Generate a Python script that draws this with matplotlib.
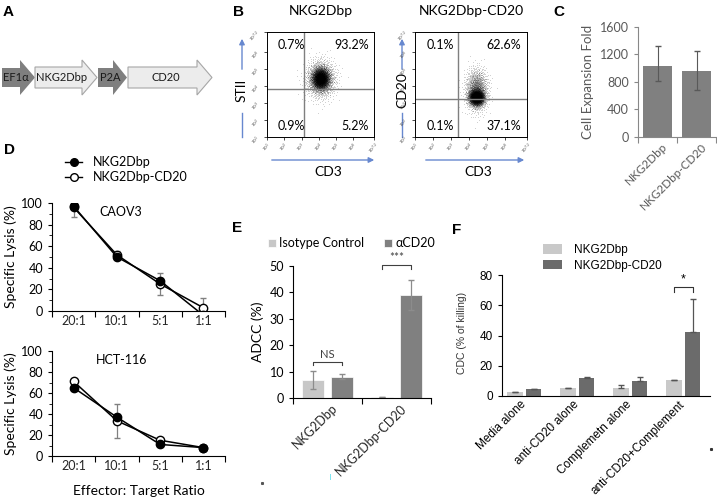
import numpy as np
import matplotlib
matplotlib.use("Agg")
import matplotlib.pyplot as plt
from matplotlib.patches import Polygon, Rectangle
from matplotlib.transforms import ScaledTranslation

plt.rcParams["font.family"] = ["Lato", "DejaVu Sans"]
W, H = 717, 504

# ── data ────────────────────────────────────────────────────────────
# A: construct
construct_parts = ["EF1\u03b1", "NKG2Dbp", "P2A", "CD20"]

# B: flow cytometry quadrants (percent), gate positions (log10), cloud (log10)
flow_titles = ["NKG2Dbp", "NKG2Dbp-CD20"]
flow_ylabels = ["STII", "CD20"]
quad_left = ["0.7%", "0.1%"]        # upper-left
quad_upper = ["93.2%", "62.6%"]     # upper-right
quad_lowleft = ["0.9%", "0.1%"]
quad_lowright = ["5.2%", "37.1%"]
gate_x = [3.15, 3.4]
gate_y = [3.83, 3.24]
cloud_cx = [4.1, 4.4]
cloud_cy = [4.45, 3.35]
core_sx = [0.24, 0.2]
core_sy = [0.3, 0.22]
halo_cy = [4.45, 3.8]
halo_sx = [0.42, 0.3]
halo_sy = [0.55, 0.6]

# C: expansion
c_groups = ["NKG2Dbp", "NKG2Dbp-CD20"]
c_mean = [1030, 960]
c_err_lo = [220, 280]
c_err_hi = [290, 290]

# D: specific lysis
ratios = ["20:1", "10:1", "5:1", "1:1"]
caov3_wt = [97, 50, 28, -4]
caov3_wt_sd = [1, 2, 3, 0]
caov3_cd20 = [96, 52, 25, 3]
caov3_cd20_sd = [8.5, 4, 10, 9]
hct_wt = [65, 37, 11, 8]
hct_wt_sd = [2, 3, 1, 1]
hct_cd20 = [71, 33.5, 15, 8]
hct_cd20_sd = [2, 16.5, 2, 1]

# E: ADCC
e_groups = ["NKG2Dbp", "NKG2Dbp-CD20"]
e_iso = [6.8, 0.2]
e_iso_sd = [3.3, 0]
e_acd20 = [8.1, 39]
e_acd20_sd = [0.9, 5.6]

# F: CDC
f_groups = ["Media alone", "anti-CD20 alone", "Complemetn alone", "anti-CD20+Complement"]
f_wt = [2.8, 5.5, 5.0, 10.8]
f_wt_sd = [0, 0, 2.5, 0]
f_cd20 = [4.8, 12, 10, 42]
f_cd20_sd = [0, 0.3, 2.8, 22.3]


def rect(x0, y0, x1, y1):
    return [x0 / W, 1 - y1 / H, (x1 - x0) / W, (y1 - y0) / H]


def cloud(n, cx, cy, sx, sy, k0):
    g = 1.32471795724474602596
    i = np.arange(k0, k0 + n)
    u1 = np.clip((0.5 + i / g) % 1, 1e-6, 1)
    u2 = (0.5 + i / g ** 2) % 1
    r = np.sqrt(-2 * np.log(u1))
    return cx + sx * r * np.cos(2 * np.pi * u2), cy + sy * r * np.sin(2 * np.pi * u2)


def cat_axis(ax, n, labels, fs=9, rot=0, dx=0.0, color="#262626"):
    ax.set_xlim(-0.5, n - 0.5)
    ax.set_xticks(np.arange(n + 1) - 0.5)
    ax.set_xticklabels([])
    ax.set_xticks(np.arange(n), minor=True)
    ax.set_xticklabels(labels, minor=True, fontsize=fs, rotation=rot,
                       ha="right" if rot else "center", color=color)
    ax.tick_params(axis="x", which="minor", length=0, pad=3)
    ax.tick_params(axis="x", which="major", length=4, direction="out")
    if dx:
        off = ScaledTranslation(dx / 100, 0, ax.figure.dpi_scale_trans)
        for lb in ax.get_xticklabels(minor=True):
            lb.set_transform(lb.get_transform() + off)
    for s in ("top", "right"):
        ax.spines[s].set_visible(False)


fig = plt.figure(figsize=(W / 100, H / 100), dpi=100)

# ── B: flow plots ───────────────────────────────────────────────────
for k, box in enumerate([(267, 32, 374, 137), (415, 32, 527, 137)]):
    ax = fig.add_axes(rect(*box))
    x1, y1 = cloud(3500, cloud_cx[k], cloud_cy[k], core_sx[k], core_sy[k], 1)
    x2, y2 = cloud(1500, cloud_cx[k], halo_cy[k], halo_sx[k], halo_sy[k], 7001)
    xs = np.concatenate([x1, x2]); ys = np.concatenate([y1, y2])
    ax.scatter(10 ** xs, 10 ** ys, s=0.18, c="k", alpha=0.35, linewidths=0)
    ax.set_xscale("log"); ax.set_yscale("log")
    ax.set_xlim(10, 10 ** 7.2); ax.set_ylim(10, 10 ** 7.2)
    ax.axvline(10 ** gate_x[k], color="#7f7f7f", lw=1)
    ax.axhline(10 ** gate_y[k], color="#7f7f7f", lw=1)
    tk = [10 ** e for e in (1, 2, 3, 4, 5, 6, 7.2)]
    tl = ["$10^{%s}$" % e for e in ("1", "2", "3", "4", "5", "6", "7.2")]
    ax.set_xticks(tk); ax.set_xticklabels(tl, fontsize=3.2, rotation=45, color="#444444")
    ax.set_yticks(tk); ax.set_yticklabels(tl, fontsize=3.2, rotation=45, color="#444444")
    ax.tick_params(which="both", length=2, width=0.5, pad=1)
    ax.tick_params(which="minor", length=1.2)
    for s in ax.spines.values():
        s.set_linewidth(0.7)
    kw = dict(transform=ax.transAxes, fontsize=9, va="center")
    ax.text(0.1, 0.88, quad_left[k], ha="left", **kw)
    ax.text(0.95, 0.88, quad_upper[k], ha="right", **kw)
    ax.text(0.1, 0.1, quad_lowleft[k], ha="left", **kw)
    ax.text(0.95, 0.1, quad_lowright[k], ha="right", **kw)
    ax.set_title(flow_titles[k], fontsize=10, pad=12)

# ── C: expansion fold ───────────────────────────────────────────────
gray_txt = "#595959"
axc = fig.add_axes(rect(638, 27, 716, 137))
axc.bar(np.arange(2), c_mean, width=0.72, color="#808080",
        yerr=[c_err_lo, c_err_hi], error_kw=dict(ecolor=gray_txt, lw=0.8, capsize=2.5))
axc.set_ylim(0, 1600)
axc.set_yticks([0, 400, 800, 1200, 1600])
axc.tick_params(axis="y", labelsize=9, labelcolor=gray_txt, color="#888888", length=3)
cat_axis(axc, 2, c_groups, fs=8.5, rot=45, dx=12, color=gray_txt)
axc.tick_params(axis="x", which="major", color="#888888")
for s in axc.spines.values():
    s.set_color("#888888")
axc.set_ylabel("Cell Expansion Fold", fontsize=9.5, color=gray_txt, labelpad=4)

# ── D: specific lysis ───────────────────────────────────────────────
d_sets = [(caov3_wt, caov3_wt_sd, caov3_cd20, caov3_cd20_sd, "CAOV3", (52, 203, 225, 311)),
          (hct_wt, hct_wt_sd, hct_cd20, hct_cd20_sd, "HCT-116", (52, 351, 225, 456))]
for wt, wsd, cd, csd, name, box in d_sets:
    ax = fig.add_axes(rect(*box))
    x = np.arange(4)
    ax.errorbar(x, cd, yerr=csd, color="#808080", lw=0, elinewidth=0.9, capsize=2.5)
    ax.errorbar(x, wt, yerr=wsd, color="#808080", lw=0, elinewidth=0.9, capsize=2.5)
    ax.plot(x, cd, "-o", color="k", mfc="white", mec="k", ms=6, lw=1.1, mew=1)
    ax.plot(x, wt, "-o", color="k", mfc="k", ms=6, lw=1.1)
    ax.set_ylim(0, 100)
    ax.set_yticks(np.arange(0, 101, 20))
    ax.set_yticks(np.arange(10, 100, 20), minor=True)
    ax.tick_params(axis="y", which="both", labelsize=9, direction="out", length=3)
    ax.tick_params(axis="y", which="minor", length=2)
    cat_axis(ax, 4, ratios, fs=9)
    ax.set_ylabel("Specific Lysis (%)", fontsize=10, labelpad=3)
    ax.text(0.4, 0.97, name, transform=ax.transAxes, fontsize=9, ha="center", va="top")
    if name == "HCT-116":
        ax.set_xlabel("Effector: Target Ratio", fontsize=10, labelpad=9)

# ── E: ADCC ─────────────────────────────────────────────────────────
axe = fig.add_axes(rect(293, 266, 431, 398))
xe = np.arange(2)
ekw = dict(ecolor="#8c8c8c", lw=0.9, capsize=2.5)
axe.bar(xe - 0.21, e_iso, width=0.32, color="#c7c7c7", yerr=e_iso_sd,
        error_kw=ekw, label="Isotype Control", edgecolor="white", lw=0.5)
axe.bar(xe + 0.21, e_acd20, width=0.32, color="#808080", yerr=e_acd20_sd,
        error_kw=ekw, label="\u03b1CD20", edgecolor="white", lw=0.5)
axe.set_ylim(0, 50)
axe.set_yticks(np.arange(0, 51, 10))
axe.tick_params(axis="y", labelsize=9, length=3)
cat_axis(axe, 2, e_groups, fs=9, rot=45, dx=12)
axe.set_ylabel("ADCC (%)", fontsize=10, labelpad=4)
for xc, yb, lab in [(0, 13.6, "NS"), (1, 50.2, "***")]:
    axe.plot([xc - 0.21, xc - 0.21, xc + 0.21, xc + 0.21],
             [yb - 1.2, yb, yb, yb - 1.2], color="#404040", lw=0.8, clip_on=False)
    axe.text(xc, yb + 0.8, lab, ha="center", va="bottom", fontsize=8 if lab == "NS" else 8.5,
             color="#404040")
axe.legend(ncol=2, frameon=False, fontsize=9, handlelength=0.6, handleheight=0.6,
           handletextpad=0.3, columnspacing=1.6, loc="center left",
           bbox_to_anchor=(268 / W, 1 - 243 / H), bbox_transform=fig.transFigure,
           borderaxespad=0, borderpad=0)

# ── F: CDC ──────────────────────────────────────────────────────────
arial = ["Liberation Sans", "DejaVu Sans"]
axf = fig.add_axes(rect(502, 275, 710, 396))
xf = np.arange(4)
fkw = dict(ecolor="#555555", lw=0.9, capsize=2.5)
axf.bar(xf - 0.175, f_wt, width=0.29, color="#c9c9c9", label="NKG2Dbp",
        yerr=[np.zeros(4), f_wt_sd], error_kw=fkw)
axf.bar(xf + 0.175, f_cd20, width=0.29, color="#6b6b6b", label="NKG2Dbp-CD20",
        yerr=[np.zeros(4), f_cd20_sd], error_kw=fkw)
axf.set_xlim(-0.42, 3.5)
axf.set_ylim(0, 80)
axf.set_yticks(np.arange(0, 81, 20))
axf.set_yticklabels([str(v) for v in range(0, 81, 20)], family=arial, fontsize=8.5)
axf.set_xticks(xf)
axf.set_xticklabels(f_groups, rotation=45, ha="right", family=arial, fontsize=8.5)
axf.tick_params(axis="x", length=0, pad=2)
axf.tick_params(axis="y", length=3)
off = ScaledTranslation(0.04, 0, fig.dpi_scale_trans)
for lb in axf.get_xticklabels():
    lb.set_transform(lb.get_transform() + off)
for s in ("top", "right"):
    axf.spines[s].set_visible(False)
axf.plot([2.825, 2.825, 3.175, 3.175], [68.5, 72, 72, 68.5], color="#333333", lw=0.8)
axf.text(3.0, 73, "*", ha="center", va="bottom", fontsize=9, family=arial)
fig.text(462 / W, 1 - 333 / H, "CDC (% of killing)", rotation=90, ha="center", va="center",
         fontsize=7.5, family=arial, color="#333333")
axf.legend(frameon=False, prop=dict(family=arial, size=8.5), handlelength=1.6,
           handleheight=0.9, handletextpad=1.0, labelspacing=0.3, loc="upper left",
           bbox_to_anchor=(543 / W, 1 - 244 / H), bbox_transform=fig.transFigure,
           borderaxespad=0, borderpad=0)

# ── overlay: letters, construct, arrows, legend of D ────────────────
ov = fig.add_axes([0, 0, 1, 1], zorder=-1)
ov.set_xlim(0, W); ov.set_ylim(H, 0); ov.set_axis_off()
for lt, (lx, ly) in zip("ABCDEF", [(3, 12), (233, 12), (553, 12), (4, 150), (232, 228), (452, 230)]):
    ov.text(lx, ly, lt, fontsize=11, fontweight="bold", family=["Liberation Sans"], va="center")

# construct arrows (x start, head start, tip, dark)
arrow_geo = [(2, 20, 35, True), (35, 82, 97, False), (98, 113, 127, True), (128, 197, 212, False)]
for (x0, xh, xt, dark), lab in zip(arrow_geo, construct_parts):
    by0, by1 = (68, 87) if dark else (67, 88)
    pts = [(x0, by0), (xh, by0), (xh, 60), (xt, 77.5), (xh, 95), (xh, by1), (x0, by1)]
    if dark:
        ov.add_patch(Polygon(pts, closed=True, fc="#7f7f7f", ec="none"))
        tx = x0 + (xt - x0) * 0.42
    else:
        ov.add_patch(Polygon(pts, closed=True, fc="#ececec", ec="#a6a6a6", lw=0.8))
        tx = (x0 + xh) / 2 + 3
    ov.text(tx, 77.5, lab, fontsize=8, ha="center", va="center", color="#1a1a1a")

# B axis arrows and labels
blue = "#6788cf"
for ax_x, lab in [(242, flow_ylabels[0]), (402, flow_ylabels[1])]:
    ov.plot([ax_x, ax_x], [137, 113], color=blue, lw=1)
    ov.annotate("", xy=(ax_x, 36), xytext=(ax_x, 72),
                arrowprops=dict(arrowstyle="-|>", color=blue, lw=1, mutation_scale=8))
    ov.text(ax_x, 90, lab, rotation=90, fontsize=10, ha="center", va="center")
for x0, x1, xc in [(269, 377, 328), (423, 527, 478)]:
    ov.annotate("", xy=(x1, 160), xytext=(x0, 160),
                arrowprops=dict(arrowstyle="-|>", color=blue, lw=1, mutation_scale=8))
    ov.text(xc, 172, "CD3", fontsize=10, ha="center", va="center")

# D legend
for yy, face, lab in [(162, "k", "NKG2Dbp"), (177, "white", "NKG2Dbp-CD20")]:
    ov.plot([65, 82], [yy, yy], color="k", lw=1)
    ov.plot([73.5], [yy], "o", mfc=face, mec="k", ms=5.5)
    ov.text(93, yy, lab, fontsize=9, va="center")

# stray specks
ov.plot([262], [483], "s", color="#555555", ms=1.2)
ov.add_patch(Rectangle((329.5, 474), 1.2, 6, color="#7fe5f0", lw=0))
ov.plot([711], [449], "s", color="#333333", ms=1.2)

fig.savefig("out.png", dpi=100)
